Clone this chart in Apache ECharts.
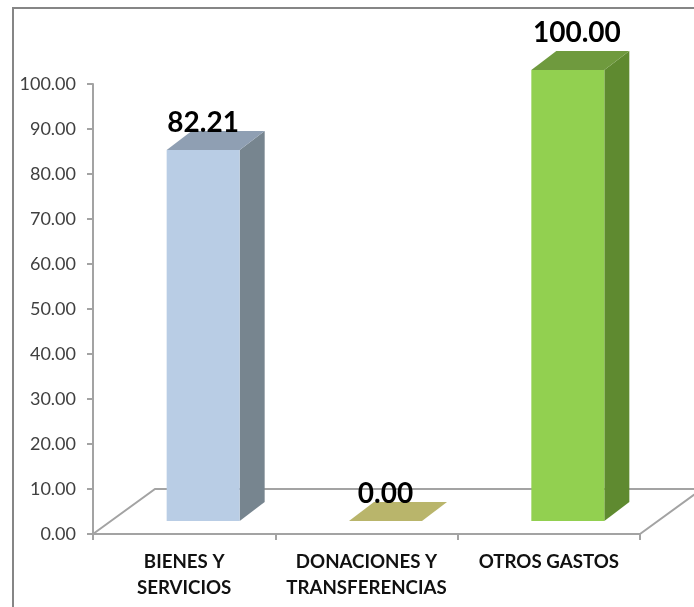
<!DOCTYPE html>
<html>
<head>
<meta charset="utf-8">
<style>
  html, body { margin: 0; padding: 0; background: #fff; }
  #chart { width: 694px; height: 607px; }
</style>
<script src="https://cdn.jsdelivr.net/npm/echarts@6/dist/echarts.min.js"></script>
</head>
<body>
<div id="chart"></div>
<script>
// datos del grafico
const categories = ['BIENES Y\nSERVICIOS', 'DONACIONES Y\nTRANSFERENCIAS', 'OTROS GASTOS']
const values = [82.21, 0.0, 100.0]

// colores de cada barra: frente, tapa, lateral
const frontColors = ['#b9cde5', '#b9b56b', '#92d050']
const topColors = ['#8f9fb3', '#b9b56b', '#6f9a3e']
const sideColors = ['#77858f', '#8f8c50', '#5f8a30']

const axisColor = '#a3a3a3'
const font = 'Lato, "Noto Sans", sans-serif'

// profundidad de la barra y del piso
const barDepth = { x: 25, y: 19 }
const floorDepth = 62
const barWidth = 73
const barShift = { x: 19, y: 13 }
// separacion de las etiquetas respecto a la barra
const labelGap = [27, 27, 37]
const labelShift = [0, 0, 9]

const chart = echarts.init(document.getElementById('chart'))

const poly = (points, fill) => ({
  type: 'polygon',
  shape: { points },
  style: { fill, stroke: null }
})

// piso en perspectiva detras de las barras
const renderFloor = (params, api) => {
  const rect = params.coordSys
  const left = rect.x
  const right = rect.x + rect.width
  const front = rect.y + rect.height
  const back = api.coord([0, 10])[1]
  return {
    type: 'polyline',
    shape: { points: [[left, front], [left + floorDepth, back], [right + floorDepth, back], [right, front]] },
    style: { stroke: axisColor, lineWidth: 2, fill: null }
  }
}

const renderBar = (params, api) => {
  const i = api.value(0)
  const [cx, base] = api.coord([i, 0])
  const bottom = base - barShift.y
  // el frente de las barras con valor llega 1px mas arriba que la escala
  const top = api.coord([i, api.value(1)])[1] - barShift.y - (api.value(1) > 0 ? 1 : 0)
  const x0 = cx + barShift.x - barWidth / 2
  const x1 = x0 + barWidth
  const dx = barDepth.x
  const dy = barDepth.y
  return {
    type: 'group',
    children: [
      poly([[x1, bottom], [x1 + dx, bottom - dy], [x1 + dx, top - dy], [x1, top]], sideColors[i]),
      poly([[x0, top], [x0 + dx, top - dy], [x1 + dx, top - dy], [x1, top]], topColors[i]),
      poly([[x0, bottom], [x1, bottom], [x1, top], [x0, top]], frontColors[i]),
      {
        type: 'text',
        z2: 10,
        style: {
          x: x0 + barWidth / 2 + labelShift[i],
          y: top - labelGap[i],
          text: values[i].toFixed(2),
          fill: '#000',
          font: 'bold 28px ' + font,
          align: 'center',
          verticalAlign: 'middle'
        }
      }
    ]
  }
}

chart.setOption({
  animation: false,
  backgroundColor: '#fff',
  graphic: [
    {
      type: 'polyline',
      silent: true,
      shape: { points: [[13, 607], [13, 8], [694, 8]] },
      style: { stroke: '#868686', lineWidth: 2, fill: null }
    }
  ],
  grid: { left: 93, right: 54, top: 84, bottom: 73 },
  xAxis: {
    type: 'category',
    data: categories,
    boundaryGap: true,
    axisLine: { lineStyle: { color: axisColor, width: 2 } },
    axisTick: { show: true, length: 6, lineStyle: { color: axisColor, width: 2 } },
    axisLabel: {
      interval: 0,
      color: '#111',
      fontFamily: font,
      fontWeight: 'bold',
      fontSize: 18.7,
      lineHeight: 26,
      margin: 15
    }
  },
  yAxis: {
    type: 'value',
    min: 0,
    max: 100,
    interval: 10,
    splitLine: { show: false },
    axisLine: { show: true, lineStyle: { color: axisColor, width: 2 } },
    axisTick: { show: true, length: 6, lineStyle: { color: axisColor, width: 2 } },
    axisLabel: {
      color: '#404040',
      fontFamily: font,
      fontSize: 18,
      margin: 17,
      formatter: (v) => v.toFixed(2)
    }
  },
  series: [
    { type: 'custom', silent: true, z: 1, renderItem: renderFloor, data: [[0, 0]] },
    { type: 'custom', silent: true, z: 2, renderItem: renderBar, data: values.map((v, i) => [i, v]) }
  ]
})
</script>
</body>
</html>
